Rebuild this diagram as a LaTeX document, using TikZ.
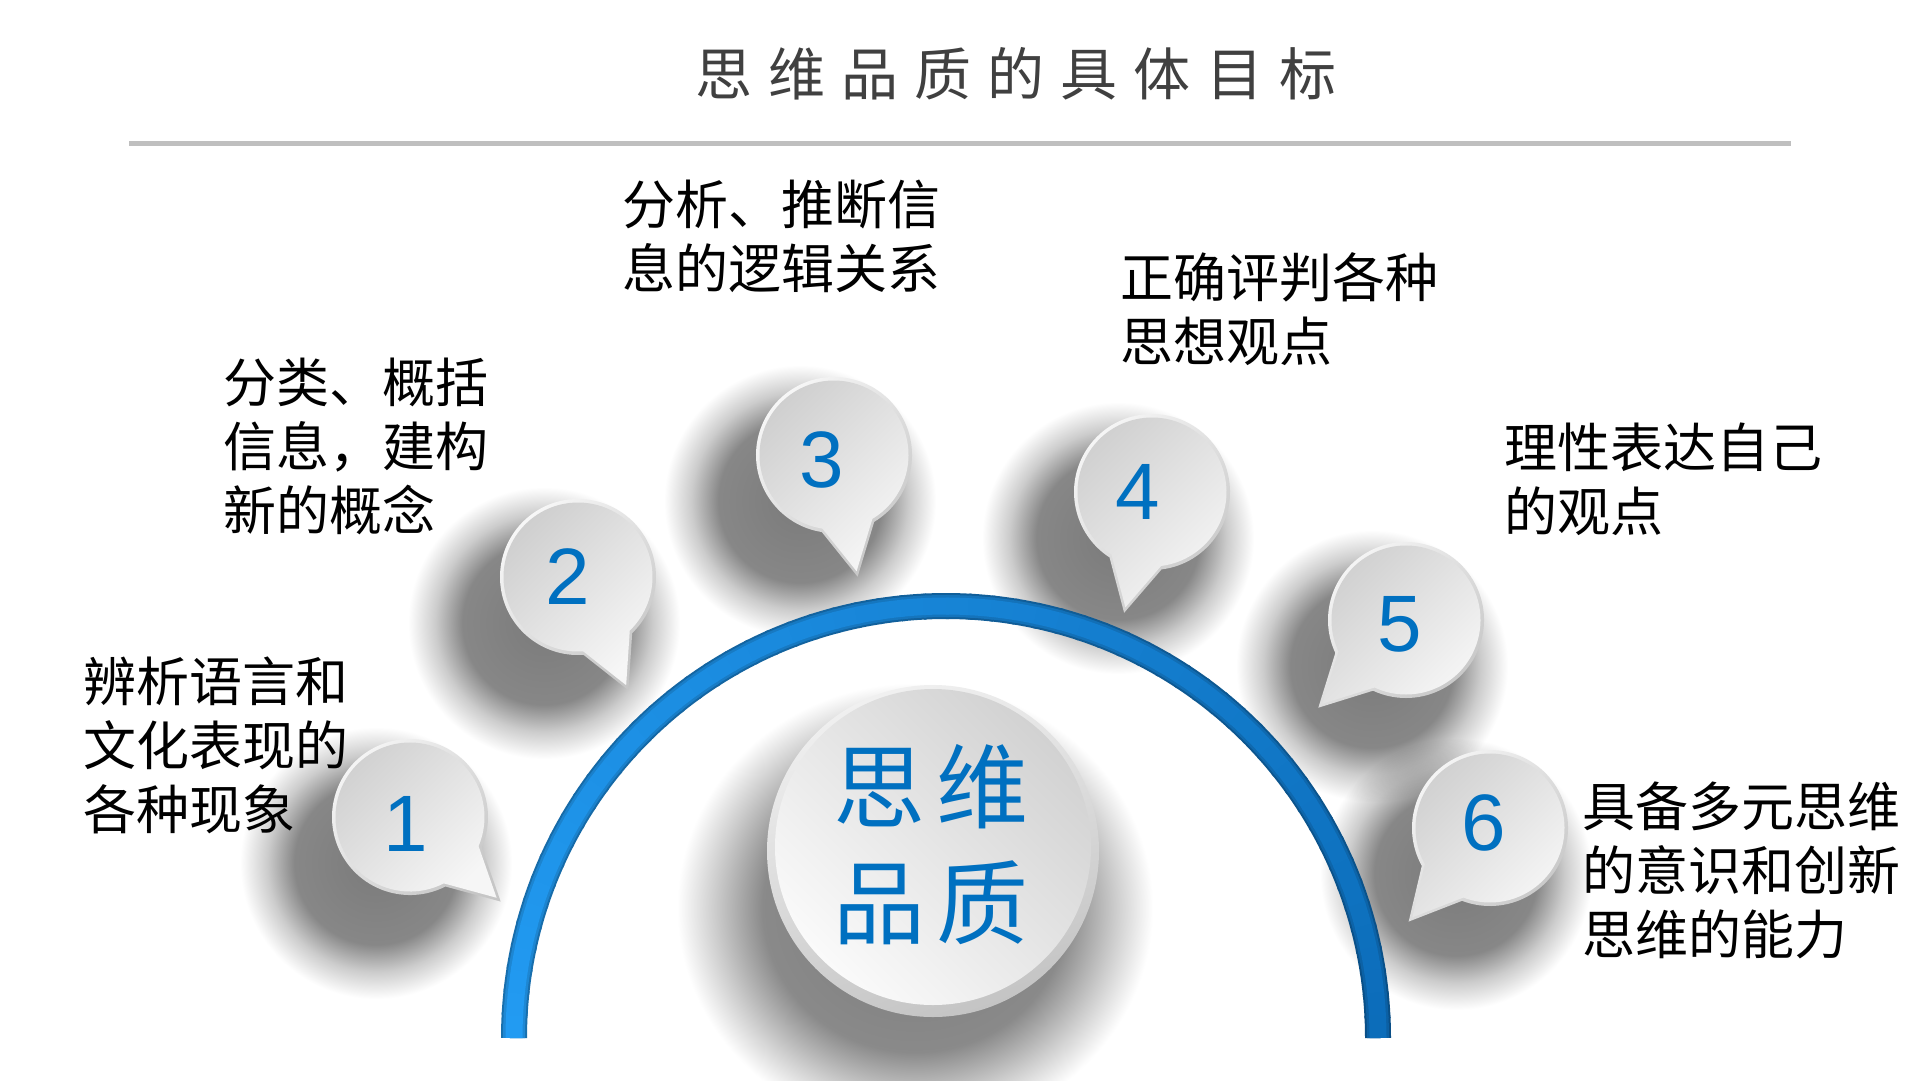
\documentclass[tikz,border=0pt]{standalone}
\usepackage{fontspec}
\newfontfamily\cjk{Noto Sans CJK SC}
\newfontfamily\numfont{Liberation Sans}
\usetikzlibrary{calc}
\definecolor{tblue}{HTML}{0070C0}
\definecolor{titlegray}{HTML}{404040}
\definecolor{rulegray}{HTML}{BFBFBF}
\definecolor{arcA}{HTML}{229BF2}
\definecolor{arcB}{HTML}{0C6DBA}
\definecolor{bInT}{HTML}{CFCFCF}
\definecolor{bInB}{HTML}{F6F6F6}
\definecolor{bRimT}{HTML}{F7F7F7}
\definecolor{bRimB}{HTML}{C6C6C6}
\definecolor{cInT}{HTML}{D2D2D2}
\definecolor{cInB}{HTML}{FAFAFA}
\definecolor{cRimT}{HTML}{F0F0F0}
\definecolor{cRimB}{HTML}{C4C4C4}
% the central 50bp square of a shading is fitted to the path, so 25bp = path edge
\pgfdeclareradialshading{softshadow}{\pgfpointorigin}{color(0bp)=(black!52); color(15bp)=(black!47); color(20bp)=(black!20); color(25bp)=(white); color(50bp)=(white)}
\pgfdeclareradialshading{bigshadow}{\pgfpointorigin}{color(0bp)=(black!52); color(16bp)=(black!46); color(21bp)=(black!20); color(25bp)=(white); color(50bp)=(white)}
\newcommand{\bubblepath}[1]{(#1+20:78) arc[start angle=#1+20, end angle=#1+340, radius=78] -- (#1:124) -- cycle}
\newcommand{\drawbubble}[3]{%
  \begin{scope}[shift={(#1,#2)}]
    \shade[top color=bRimT, bottom color=bRimB, shading angle=45] \bubblepath{#3};
    \begin{scope}[scale=0.955]
      \shade[top color=bInT, bottom color=bInB, shading angle=45] \bubblepath{#3};
    \end{scope}
  \end{scope}}
\begin{document}
\begin{tikzpicture}[x=1pt,y=-1pt,
  desc/.style={font=\cjk\fontsize{53}{64}\selectfont, align=left, anchor=base west, inner sep=0pt, text=black},
  num/.style={font=\numfont\fontsize{80}{80}\selectfont, text=tblue, anchor=base, inner sep=0pt},
  centertext/.style={font=\cjk\fontsize{92}{92}\selectfont, text=tblue, anchor=base, inner sep=0pt},
  titletext/.style={font=\cjk\fontsize{57}{57}\selectfont, text=titlegray, anchor=base, inner sep=0pt},
  shadowblob/.style={shading=softshadow, blend mode=multiply}]
\useasboundingbox (0,0) rectangle (1920,1080);
\fill[white] (0,0) rectangle (1920,1080);

% soft shadows (falling to the lower left)
\foreach \x/\y in {410/817, 578/577, 834/455, 1152/492, 1406/620, 1490/828}
  \shade[shadowblob] (\x-34,\y+46) circle[radius=136];
\shade[shading=bigshadow, blend mode=multiply] (915,908) ellipse[x radius=238, y radius=225];

% blue arc (tube look, colour shifting from left to right)
\foreach \w/\k in {26/72, 22/88, 17/100} {
  \foreach \i in {0,...,59} {
    \pgfmathtruncatemacro\p{100-\i*100/59}
    \pgfmathsetmacro\a{180+3*\i}
    \pgfmathsetmacro\b{min(\a+3.4,360)}
    \colorlet{segc}{arcA!\p!arcB}
    \draw[line width=\w pt, color=segc!\k!black, line cap=butt]
      (946,1038) ++(\a:432) arc[start angle=\a, end angle=\b, radius=432];
  }
}

% centre disc
\shade[top color=cRimT, bottom color=cRimB, shading angle=20] (933,851) circle[radius=166];
\shade[top color=cInT, bottom color=cInB, shading angle=-45] (933,847) circle[radius=158];
\node[centertext] (c1) at (931,821) {\makebox[104pt]{思}\makebox[104pt]{维}};
\node[centertext] (c2) at (931,937) {\makebox[104pt]{品}\makebox[104pt]{质}};

% speech bubbles
\drawbubble{410}{817}{43}
\drawbubble{578}{577}{66}
\drawbubble{834}{455}{79}
\drawbubble{1152}{492}{103}
\drawbubble{1406}{620}{135}
\drawbubble{1490}{828}{131}

\node[num] (n1) at (406,851) {1};
\node[num] (n2) at (568,604) {2};
\node[num] (n3) at (822,487) {3};
\node[num] (n4) at (1138,519) {4};
\node[num] (n5) at (1400,651) {5};
\node[num] (n6) at (1484,850) {6};

% descriptions (base anchor = baseline of the last line)
\node[desc] (t1) at (83,829) {辨析语言和\\文化表现的\\各种现象};
\node[desc] (t2) at (223,530) {分类、概括\\信息，建构\\新的概念};
\node[desc] (t3) at (622,288) {分析、推断信\\息的逻辑关系};
\node[desc] (t4) at (1120,361) {正确评判各种\\思想观点};
\node[desc] (t5) at (1504,531) {理性表达自己\\的观点};
\node[desc] (t6) at (1582,954) {具备多元思维\\的意识和创新\\思维的能力};

% title and rule
\node[titletext] (title) at (1016,95) {\makebox[73pt]{思}\makebox[73pt]{维}\makebox[73pt]{品}\makebox[73pt]{质}\makebox[73pt]{的}\makebox[73pt]{具}\makebox[73pt]{体}\makebox[73pt]{目}\makebox[73pt]{标}};
\coordinate (ruleL) at (129,143);
\coordinate (ruleR) at (1791,143);
\draw[rulegray, line width=5pt] (ruleL) -- (ruleR);
\end{tikzpicture}
\end{document}
